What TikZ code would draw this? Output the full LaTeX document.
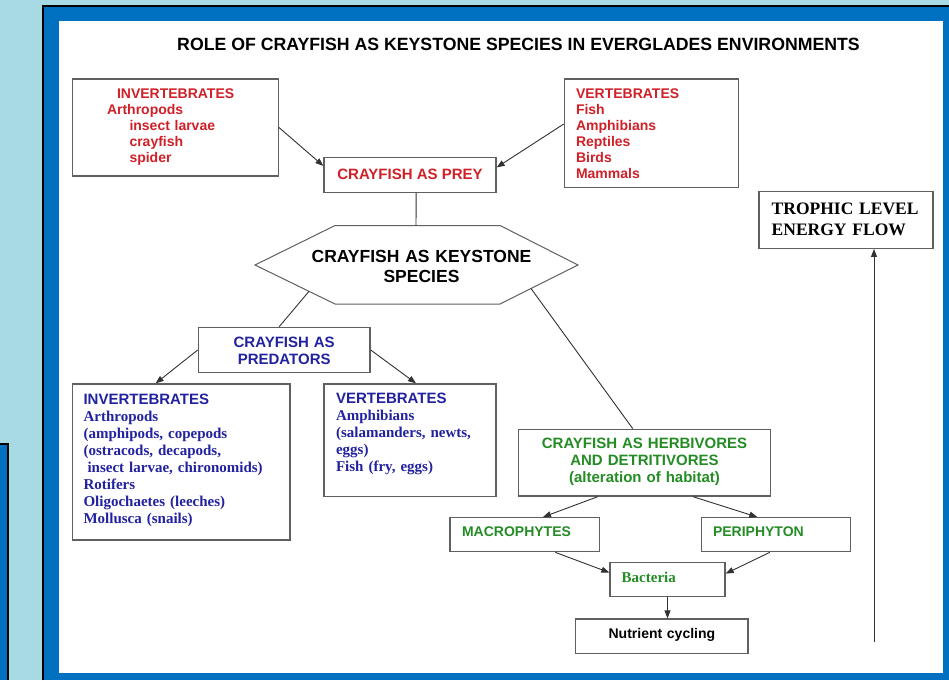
\documentclass[tikz,border=0pt]{standalone}
\usepackage{fontspec}
\setmainfont{Liberation Serif}
\setsansfont{Liberation Sans}
\usetikzlibrary{arrows.meta}
\definecolor{bgcyan}{RGB}{168,218,228}
\definecolor{panelblue}{RGB}{0,112,192}
\definecolor{myred}{RGB}{208,32,40}
\definecolor{myblue}{RGB}{34,34,160}
\definecolor{mygreen}{RGB}{36,140,36}
\definecolor{boxgray}{RGB}{96,96,96}
\definecolor{linegray}{RGB}{50,50,50}
\tikzset{
  box/.style={draw=boxgray, line width=1.3pt, fill=white, inner sep=0pt},
  arr/.style={draw=linegray, line width=0.9pt, -{Triangle[length=8pt,width=6pt]}},
  ln/.style={draw=linegray, line width=0.9pt},
  sfbold/.style={font=\sffamily\bfseries\fontsize{#1}{#1*1.15}\selectfont},
  redlist/.style={text=myred, font=\sffamily\bfseries\fontsize{14}{16}\selectfont, align=left},
  bluelist/.style={text=myblue, font=\rmfamily\bfseries\fontsize{15}{17}\selectfont, align=left},
}
\begin{document}
\begin{tikzpicture}[x=1pt,y=-1pt]
\useasboundingbox (0,0) rectangle (949,680);
% background and panel
\fill[bgcyan] (0,0) rectangle (949,680);
\fill[panelblue] (43,6) rectangle (949,680);
\draw[black, line width=2.5pt] (43,680) -- (43,6) -- (949,6);
\fill[white] (59,21) rectangle (943.3,672.7);
\fill[panelblue] (0,444) rectangle (7.7,680);
\draw[black, line width=2pt] (0,444) -- (7.7,444) -- (7.7,680);

% title
\node[font=\sffamily\bfseries\fontsize{17.7}{20}\selectfont, inner sep=0pt] (title) at (518.5,44) {ROLE OF CRAYFISH AS KEYSTONE SPECIES IN EVERGLADES ENVIRONMENTS};

% prey boxes
\node[box, redlist, minimum width=206pt, minimum height=97pt, text width=136.6pt, text height=0pt, text depth=59pt] (inv1) at (175.3,127.5)
  {\hspace*{10pt}INVERTEBRATES\\Arthropods\\\hspace*{22.5pt}insect larvae\\\hspace*{22.5pt}crayfish\\\hspace*{22.5pt}spider};
\node[box, redlist, minimum width=174pt, minimum height=108.7pt, text width=150.6pt, text height=0pt, text depth=70.6pt] (vert1) at (651.3,133.3)
  {VERTEBRATES\\Fish\\Amphibians\\Reptiles\\Birds\\Mammals};
\node[box, text=myred, font=\sffamily\bfseries\fontsize{15}{17}\selectfont, minimum width=172pt, minimum height=34.6pt, text height=8pt, text depth=0pt] (prey) at (410,175) {CRAYFISH AS PREY};

% keystone hexagon
\draw[draw=boxgray, line width=1pt, fill=white] (335,225.5) -- (500,225.5) -- (578,265) -- (500,304) -- (335,304) -- (255,265) -- cycle;
\coordinate (hexTop) at (416,225.5);
\coordinate (hexL) at (309,291.3);
\coordinate (hexR) at (531,288.5);
\node[font=\sffamily\bfseries\fontsize{17.5}{20}\selectfont, align=center, text width=240pt, inner sep=0pt, text height=0pt, text depth=8pt] (hex) at (421.5,266) {CRAYFISH AS KEYSTONE\\SPECIES};

% predators
\node[box, text=myblue, font=\sffamily\bfseries\fontsize{15}{17}\selectfont, align=center, text width=160pt, minimum width=171.7pt, minimum height=45.4pt, text height=0pt, text depth=5.4pt] (pred) at (284.2,350) {CRAYFISH AS\\PREDATORS};
\node[box, bluelist, minimum width=217.7pt, minimum height=156pt, text width=195.3pt, text height=0pt, text depth=116pt] (invB) at (181.2,462)
  {{\sffamily INVERTEBRATES}\\Arthropods\\(amphipods, copepods\\(ostracods, decapods,\\\hspace*{4pt}insect larvae, chironomids)\\Rotifers\\Oligochaetes (leeches)\\Mollusca (snails)};
\node[box, bluelist, minimum width=172pt, minimum height=112.7pt, text width=148pt, text height=0pt, text depth=74pt] (vertB) at (410,440.3)
  {{\sffamily VERTEBRATES}\\Amphibians\\(salamanders, newts,\\eggs)\\Fish (fry, eggs)};

% herbivores branch
\node[box, text=mygreen, font=\sffamily\bfseries\fontsize{15}{17.3}\selectfont, align=center, text width=240pt, minimum width=252.4pt, minimum height=66.7pt, text height=0pt, text depth=28.8pt] (herb) at (644.5,462.7)
  {CRAYFISH AS HERBIVORES\\AND DETRITIVORES\\(alteration of habitat)};
\node[box, text=mygreen, font=\sffamily\bfseries\fontsize{14}{16}\selectfont, align=left, text width=125.3pt, minimum width=149.3pt, minimum height=34pt, text height=4pt, text depth=0pt] (macro) at (524.7,534.7) {MACROPHYTES};
\node[box, text=mygreen, font=\sffamily\bfseries\fontsize{14}{16}\selectfont, align=left, text width=126.4pt, minimum width=149pt, minimum height=34pt, text height=4pt, text depth=0pt] (peri) at (776.2,534.7) {PERIPHYTON};
\node[box, text=mygreen, font=\rmfamily\bfseries\fontsize{15}{17}\selectfont, align=left, text width=91.6pt, minimum width=115pt, minimum height=34pt, text height=6pt, text depth=0pt] (bact) at (667.5,579.7) {Bacteria};
\node[box, text=black, font=\sffamily\bfseries\fontsize{14}{16}\selectfont, align=center, text width=160pt, minimum width=172.3pt, minimum height=34.3pt, text height=4.2pt, text depth=0pt] (nutr) at (661.9,636.2) {Nutrient cycling};

% trophic
\node[box, text=black, font=\rmfamily\bfseries\fontsize{17.5}{20.7}\selectfont, align=left, text width=148.6pt, minimum width=174pt, minimum height=56.6pt, text height=0pt, text depth=11.4pt] (troph) at (846,220) {TROPHIC LEVEL\\ENERGY FLOW};
\coordinate (trophBase) at (874,641.7);

% connectors
\draw[arr] (inv1.east) -- (prey.174.7);
\draw[arr] (vert1.174.5) -- (prey.5.3);
\draw[ln] (prey.-71) -- (hexTop);
\draw[ln] (hexL) -- (pred.102.9);
\draw[arr] (pred.west) -- (invB.108.6);
\draw[arr] (pred.east) -- (vertB.84.9);
\draw[ln] (hexR) -- (herb.109);
\draw[arr] (herb.-144.4) -- (macro.44);
\draw[arr] (herb.-35.8) -- (peri.137.4);
\draw[arr] (macro.-30.7) -- (bact.173.6);
\draw[arr] (peri.-110.9) -- (bact.6.4);
\draw[arr] (bact.south) -- (bact.south |- nutr.north);
\draw[arr] (trophBase) -- (trophBase |- troph.south);
\end{tikzpicture}
\end{document}
